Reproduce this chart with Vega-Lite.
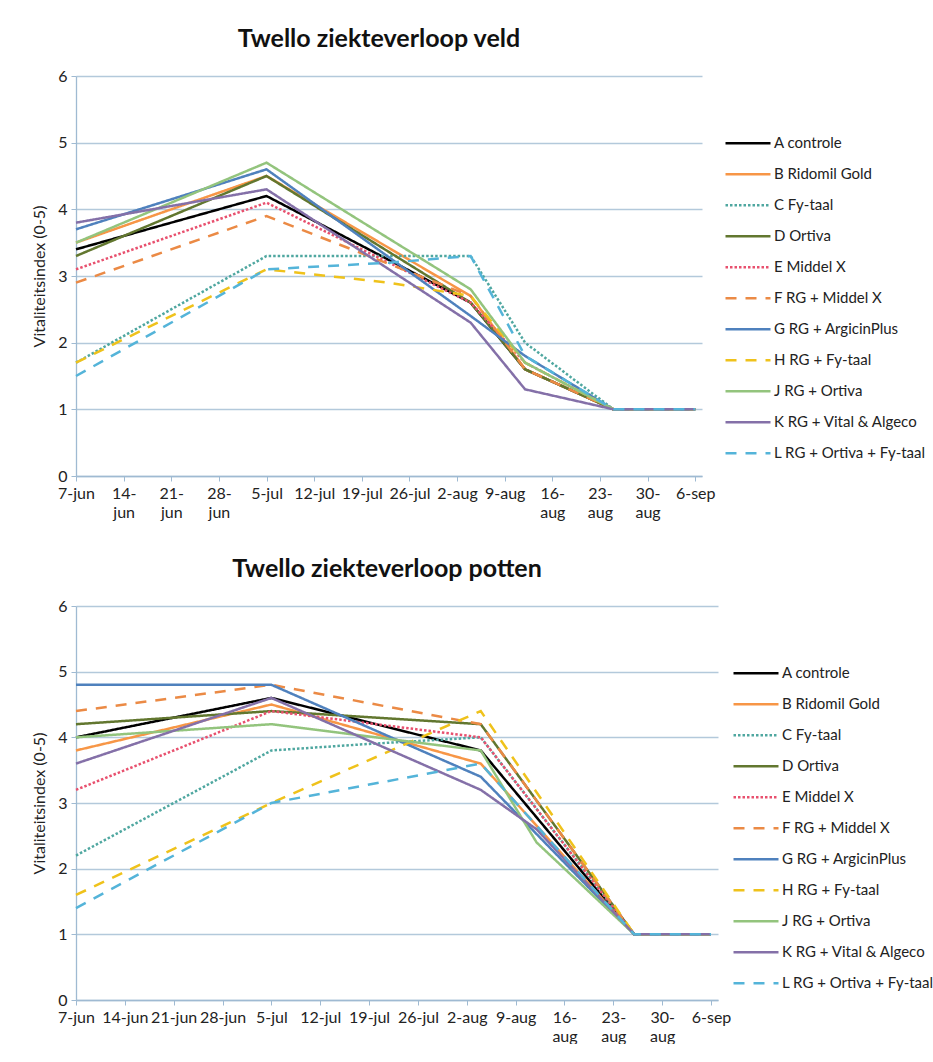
{
  "$schema": "https://vega.github.io/schema/vega-lite/v6.json",
  "background": "white",
  "padding": {"left": 31, "top": 27, "right": 0, "bottom": 0},
  "spacing": 37,
  "config": {
    "font": "Lato",
    "view": {"stroke": null},
    "axis": {
      "labelFont": "Lato", "titleFont": "Lato",
      "domainColor": "#9FBAD2", "tickColor": "#9FBAD2", "gridColor": "#B3C9DB",
      "labelColor": "#222222", "titleColor": "#222222",
      "labelFontSize": 16, "tickSize": 5, "domainWidth": 1.3, "gridWidth": 1.3
    },
    "title": {"font": "Lato", "fontSize": 25, "fontWeight": "bold", "color": "#111111", "anchor": "middle", "offset": 16, "dx": -10},
    "legend": {
      "symbolType": "stroke", "symbolSize": 2025, "symbolStrokeWidth": 2.5,
      "labelFont": "Lato", "labelFontSize": 15, "labelColor": "#222222",
      "clipHeight": 30.7, "rowPadding": 0, "labelOffset": 2, "padding": 0, "labelLimit": 300
    }
  },
  "datasets": {
    "veld": [
      {"treatment": "A controle", "date": "2010-06-07", "value": 3.4},
      {"treatment": "A controle", "date": "2010-07-05", "value": 4.2},
      {"treatment": "A controle", "date": "2010-08-04", "value": 2.6},
      {"treatment": "A controle", "date": "2010-08-12", "value": 1.6},
      {"treatment": "A controle", "date": "2010-08-25", "value": 1.0},
      {"treatment": "A controle", "date": "2010-09-06", "value": 1.0},
      {"treatment": "B Ridomil Gold", "date": "2010-06-07", "value": 3.5},
      {"treatment": "B Ridomil Gold", "date": "2010-07-05", "value": 4.5},
      {"treatment": "B Ridomil Gold", "date": "2010-08-04", "value": 2.7},
      {"treatment": "B Ridomil Gold", "date": "2010-08-12", "value": 1.6},
      {"treatment": "B Ridomil Gold", "date": "2010-08-25", "value": 1.0},
      {"treatment": "B Ridomil Gold", "date": "2010-09-06", "value": 1.0},
      {"treatment": "C Fy-taal", "date": "2010-06-07", "value": 1.7},
      {"treatment": "C Fy-taal", "date": "2010-07-05", "value": 3.3},
      {"treatment": "C Fy-taal", "date": "2010-07-23", "value": 3.3},
      {"treatment": "C Fy-taal", "date": "2010-08-04", "value": 3.3},
      {"treatment": "C Fy-taal", "date": "2010-08-12", "value": 2.0},
      {"treatment": "C Fy-taal", "date": "2010-08-25", "value": 1.0},
      {"treatment": "C Fy-taal", "date": "2010-09-06", "value": 1.0},
      {"treatment": "D Ortiva", "date": "2010-06-07", "value": 3.3},
      {"treatment": "D Ortiva", "date": "2010-07-05", "value": 4.5},
      {"treatment": "D Ortiva", "date": "2010-08-04", "value": 2.6},
      {"treatment": "D Ortiva", "date": "2010-08-12", "value": 1.6},
      {"treatment": "D Ortiva", "date": "2010-08-25", "value": 1.0},
      {"treatment": "D Ortiva", "date": "2010-09-06", "value": 1.0},
      {"treatment": "E Middel X", "date": "2010-06-07", "value": 3.1},
      {"treatment": "E Middel X", "date": "2010-07-05", "value": 4.1},
      {"treatment": "E Middel X", "date": "2010-08-04", "value": 2.6},
      {"treatment": "E Middel X", "date": "2010-08-12", "value": 1.7},
      {"treatment": "E Middel X", "date": "2010-08-25", "value": 1.0},
      {"treatment": "E Middel X", "date": "2010-09-06", "value": 1.0},
      {"treatment": "F RG + Middel X", "date": "2010-06-07", "value": 2.9},
      {"treatment": "F RG + Middel X", "date": "2010-07-05", "value": 3.9},
      {"treatment": "F RG + Middel X", "date": "2010-08-04", "value": 2.7},
      {"treatment": "F RG + Middel X", "date": "2010-08-12", "value": 1.6},
      {"treatment": "F RG + Middel X", "date": "2010-08-25", "value": 1.0},
      {"treatment": "F RG + Middel X", "date": "2010-09-06", "value": 1.0},
      {"treatment": "G RG + ArgicinPlus", "date": "2010-06-07", "value": 3.7},
      {"treatment": "G RG + ArgicinPlus", "date": "2010-07-05", "value": 4.6},
      {"treatment": "G RG + ArgicinPlus", "date": "2010-08-04", "value": 2.4},
      {"treatment": "G RG + ArgicinPlus", "date": "2010-08-12", "value": 1.8},
      {"treatment": "G RG + ArgicinPlus", "date": "2010-08-25", "value": 1.0},
      {"treatment": "G RG + ArgicinPlus", "date": "2010-09-06", "value": 1.0},
      {"treatment": "H RG + Fy-taal", "date": "2010-06-07", "value": 1.7},
      {"treatment": "H RG + Fy-taal", "date": "2010-07-05", "value": 3.1},
      {"treatment": "H RG + Fy-taal", "date": "2010-07-23", "value": 2.9},
      {"treatment": "H RG + Fy-taal", "date": "2010-08-04", "value": 2.7},
      {"treatment": "H RG + Fy-taal", "date": "2010-08-12", "value": 1.7},
      {"treatment": "H RG + Fy-taal", "date": "2010-08-25", "value": 1.0},
      {"treatment": "H RG + Fy-taal", "date": "2010-09-06", "value": 1.0},
      {"treatment": "J RG + Ortiva", "date": "2010-06-07", "value": 3.5},
      {"treatment": "J RG + Ortiva", "date": "2010-07-05", "value": 4.7},
      {"treatment": "J RG + Ortiva", "date": "2010-08-04", "value": 2.8},
      {"treatment": "J RG + Ortiva", "date": "2010-08-12", "value": 1.7},
      {"treatment": "J RG + Ortiva", "date": "2010-08-25", "value": 1.0},
      {"treatment": "J RG + Ortiva", "date": "2010-09-06", "value": 1.0},
      {"treatment": "K RG + Vital & Algeco", "date": "2010-06-07", "value": 3.8},
      {"treatment": "K RG + Vital & Algeco", "date": "2010-07-05", "value": 4.3},
      {"treatment": "K RG + Vital & Algeco", "date": "2010-08-04", "value": 2.3},
      {"treatment": "K RG + Vital & Algeco", "date": "2010-08-12", "value": 1.3},
      {"treatment": "K RG + Vital & Algeco", "date": "2010-08-25", "value": 1.0},
      {"treatment": "K RG + Vital & Algeco", "date": "2010-09-06", "value": 1.0},
      {"treatment": "L RG + Ortiva + Fy-taal", "date": "2010-06-07", "value": 1.5},
      {"treatment": "L RG + Ortiva + Fy-taal", "date": "2010-07-05", "value": 3.1},
      {"treatment": "L RG + Ortiva + Fy-taal", "date": "2010-07-23", "value": 3.2},
      {"treatment": "L RG + Ortiva + Fy-taal", "date": "2010-08-04", "value": 3.3},
      {"treatment": "L RG + Ortiva + Fy-taal", "date": "2010-08-12", "value": 1.8},
      {"treatment": "L RG + Ortiva + Fy-taal", "date": "2010-08-25", "value": 1.0},
      {"treatment": "L RG + Ortiva + Fy-taal", "date": "2010-09-06", "value": 1.0}
    ],
    "potten": [
      {"treatment": "A controle", "date": "2010-06-07", "value": 4.0},
      {"treatment": "A controle", "date": "2010-07-05", "value": 4.6},
      {"treatment": "A controle", "date": "2010-08-04", "value": 3.8},
      {"treatment": "A controle", "date": "2010-08-26", "value": 1.0},
      {"treatment": "A controle", "date": "2010-09-06", "value": 1.0},
      {"treatment": "B Ridomil Gold", "date": "2010-06-07", "value": 3.8},
      {"treatment": "B Ridomil Gold", "date": "2010-07-05", "value": 4.5},
      {"treatment": "B Ridomil Gold", "date": "2010-08-04", "value": 3.6},
      {"treatment": "B Ridomil Gold", "date": "2010-08-26", "value": 1.0},
      {"treatment": "B Ridomil Gold", "date": "2010-09-06", "value": 1.0},
      {"treatment": "C Fy-taal", "date": "2010-06-07", "value": 2.2},
      {"treatment": "C Fy-taal", "date": "2010-07-05", "value": 3.8},
      {"treatment": "C Fy-taal", "date": "2010-07-19", "value": 3.9},
      {"treatment": "C Fy-taal", "date": "2010-08-04", "value": 4.0},
      {"treatment": "C Fy-taal", "date": "2010-08-26", "value": 1.0},
      {"treatment": "C Fy-taal", "date": "2010-09-06", "value": 1.0},
      {"treatment": "D Ortiva", "date": "2010-06-07", "value": 4.2},
      {"treatment": "D Ortiva", "date": "2010-07-05", "value": 4.4},
      {"treatment": "D Ortiva", "date": "2010-08-04", "value": 4.2},
      {"treatment": "D Ortiva", "date": "2010-08-26", "value": 1.0},
      {"treatment": "D Ortiva", "date": "2010-09-06", "value": 1.0},
      {"treatment": "E Middel X", "date": "2010-06-07", "value": 3.2},
      {"treatment": "E Middel X", "date": "2010-07-05", "value": 4.4},
      {"treatment": "E Middel X", "date": "2010-08-04", "value": 4.0},
      {"treatment": "E Middel X", "date": "2010-08-26", "value": 1.0},
      {"treatment": "E Middel X", "date": "2010-09-06", "value": 1.0},
      {"treatment": "F RG + Middel X", "date": "2010-06-07", "value": 4.4},
      {"treatment": "F RG + Middel X", "date": "2010-07-05", "value": 4.8},
      {"treatment": "F RG + Middel X", "date": "2010-08-04", "value": 4.2},
      {"treatment": "F RG + Middel X", "date": "2010-08-26", "value": 1.0},
      {"treatment": "F RG + Middel X", "date": "2010-09-06", "value": 1.0},
      {"treatment": "G RG + ArgicinPlus", "date": "2010-06-07", "value": 4.8},
      {"treatment": "G RG + ArgicinPlus", "date": "2010-07-05", "value": 4.8},
      {"treatment": "G RG + ArgicinPlus", "date": "2010-08-04", "value": 3.4},
      {"treatment": "G RG + ArgicinPlus", "date": "2010-08-26", "value": 1.0},
      {"treatment": "G RG + ArgicinPlus", "date": "2010-09-06", "value": 1.0},
      {"treatment": "H RG + Fy-taal", "date": "2010-06-07", "value": 1.6},
      {"treatment": "H RG + Fy-taal", "date": "2010-07-05", "value": 3.0},
      {"treatment": "H RG + Fy-taal", "date": "2010-08-04", "value": 4.4},
      {"treatment": "H RG + Fy-taal", "date": "2010-08-26", "value": 1.0},
      {"treatment": "H RG + Fy-taal", "date": "2010-09-06", "value": 1.0},
      {"treatment": "J RG + Ortiva", "date": "2010-06-07", "value": 4.0},
      {"treatment": "J RG + Ortiva", "date": "2010-07-05", "value": 4.2},
      {"treatment": "J RG + Ortiva", "date": "2010-08-04", "value": 3.8},
      {"treatment": "J RG + Ortiva", "date": "2010-08-12", "value": 2.4},
      {"treatment": "J RG + Ortiva", "date": "2010-08-26", "value": 1.0},
      {"treatment": "J RG + Ortiva", "date": "2010-09-06", "value": 1.0},
      {"treatment": "K RG + Vital & Algeco", "date": "2010-06-07", "value": 3.6},
      {"treatment": "K RG + Vital & Algeco", "date": "2010-07-05", "value": 4.6},
      {"treatment": "K RG + Vital & Algeco", "date": "2010-08-04", "value": 3.2},
      {"treatment": "K RG + Vital & Algeco", "date": "2010-08-12", "value": 2.6},
      {"treatment": "K RG + Vital & Algeco", "date": "2010-08-26", "value": 1.0},
      {"treatment": "K RG + Vital & Algeco", "date": "2010-09-06", "value": 1.0},
      {"treatment": "L RG + Ortiva + Fy-taal", "date": "2010-06-07", "value": 1.4},
      {"treatment": "L RG + Ortiva + Fy-taal", "date": "2010-07-05", "value": 3.0},
      {"treatment": "L RG + Ortiva + Fy-taal", "date": "2010-08-04", "value": 3.6},
      {"treatment": "L RG + Ortiva + Fy-taal", "date": "2010-08-26", "value": 1.0},
      {"treatment": "L RG + Ortiva + Fy-taal", "date": "2010-09-06", "value": 1.0}
    ]
  },
  "vconcat": [
    {
      "title": "Twello ziekteverloop veld",
      "width": 626,
      "height": 400,
      "data": {"name": "veld"},
      "mark": {"type": "line", "strokeWidth": 2.5, "strokeCap": "butt"},
      "encoding": {
        "x": {
          "field": "date", "type": "temporal",
          "scale": {"type": "utc", "domain": [{"year": 2010, "month": 6, "date": 7, "utc": true}, {"year": 2010, "month": 9, "date": 7, "utc": true}]},
          "axis": {
            "title": null, "grid": false, "labelAngle": 0, "labelOverlap": false, "labelFlush": false, "labelBound": false,
            "labelPadding": 4, "labelLineHeight": 19,
            "values": [
              {"year": 2010, "month": 6, "date": 7, "utc": true},
              {"year": 2010, "month": 6, "date": 14, "utc": true},
              {"year": 2010, "month": 6, "date": 21, "utc": true},
              {"year": 2010, "month": 6, "date": 28, "utc": true},
              {"year": 2010, "month": 7, "date": 5, "utc": true},
              {"year": 2010, "month": 7, "date": 12, "utc": true},
              {"year": 2010, "month": 7, "date": 19, "utc": true},
              {"year": 2010, "month": 7, "date": 26, "utc": true},
              {"year": 2010, "month": 8, "date": 2, "utc": true},
              {"year": 2010, "month": 8, "date": 9, "utc": true},
              {"year": 2010, "month": 8, "date": 16, "utc": true},
              {"year": 2010, "month": 8, "date": 23, "utc": true},
              {"year": 2010, "month": 8, "date": 30, "utc": true},
              {"year": 2010, "month": 9, "date": 6, "utc": true}
            ],
            "labelExpr": "(utcdate(datum.value) >= 10 && (utcmonth(datum.value) == 5 || utcmonth(datum.value) == 7)) ? [utcFormat(datum.value, '%-d') + '-', lower(utcFormat(datum.value, '%b'))] : utcFormat(datum.value, '%-d') + '-' + lower(utcFormat(datum.value, '%b'))"
          }
        },
        "y": {
          "field": "value", "type": "quantitative",
          "scale": {"domain": [0, 6]},
          "axis": {"title": "Vitaliteitsindex (0-5)", "values": [0, 1, 2, 3, 4, 5, 6], "titleFontSize": 16, "titleFontWeight": "normal", "titlePadding": 10, "labelPadding": 4}
        },
        "color": {
          "field": "treatment", "type": "nominal",
          "scale": {
            "domain": ["A controle", "B Ridomil Gold", "C Fy-taal", "D Ortiva", "E Middel X", "F RG + Middel X", "G RG + ArgicinPlus", "H RG + Fy-taal", "J RG + Ortiva", "K RG + Vital & Algeco", "L RG + Ortiva + Fy-taal"],
            "range": ["#000000", "#F79646", "#4FA7A0", "#62772F", "#E8506E", "#EB8A45", "#4F81BD", "#EFC21B", "#93C47D", "#8470A8", "#54B4D9"]
          },
          "legend": {"title": null, "orient": "none", "legendX": 648, "legendY": 52}
        },
        "strokeDash": {
          "field": "treatment", "type": "nominal",
          "scale": {
            "domain": ["A controle", "B Ridomil Gold", "C Fy-taal", "D Ortiva", "E Middel X", "F RG + Middel X", "G RG + ArgicinPlus", "H RG + Fy-taal", "J RG + Ortiva", "K RG + Vital & Algeco", "L RG + Ortiva + Fy-taal"],
            "range": [[1, 0], [1, 0], [2.5, 2], [1, 0], [2.5, 2], [11, 9], [1, 0], [11, 9], [1, 0], [1, 0], [11, 9]]
          },
          "legend": {"title": null, "orient": "none", "legendX": 648, "legendY": 52}
        }
      }
    },
    {
      "title": "Twello ziekteverloop potten",
      "width": 642,
      "height": 394,
      "data": {"name": "potten"},
      "mark": {"type": "line", "strokeWidth": 2.5, "strokeCap": "butt"},
      "encoding": {
        "x": {
          "field": "date", "type": "temporal",
          "scale": {"type": "utc", "domain": [{"year": 2010, "month": 6, "date": 7, "utc": true}, {"year": 2010, "month": 9, "date": 7, "utc": true}]},
          "axis": {
            "title": null, "grid": false, "labelAngle": 0, "labelOverlap": false, "labelFlush": false, "labelBound": false,
            "labelPadding": 4, "labelLineHeight": 19,
            "values": [
              {"year": 2010, "month": 6, "date": 7, "utc": true},
              {"year": 2010, "month": 6, "date": 14, "utc": true},
              {"year": 2010, "month": 6, "date": 21, "utc": true},
              {"year": 2010, "month": 6, "date": 28, "utc": true},
              {"year": 2010, "month": 7, "date": 5, "utc": true},
              {"year": 2010, "month": 7, "date": 12, "utc": true},
              {"year": 2010, "month": 7, "date": 19, "utc": true},
              {"year": 2010, "month": 7, "date": 26, "utc": true},
              {"year": 2010, "month": 8, "date": 2, "utc": true},
              {"year": 2010, "month": 8, "date": 9, "utc": true},
              {"year": 2010, "month": 8, "date": 16, "utc": true},
              {"year": 2010, "month": 8, "date": 23, "utc": true},
              {"year": 2010, "month": 8, "date": 30, "utc": true},
              {"year": 2010, "month": 9, "date": 6, "utc": true}
            ],
            "labelExpr": "(utcdate(datum.value) >= 10 && utcmonth(datum.value) == 7) ? [utcFormat(datum.value, '%-d') + '-', lower(utcFormat(datum.value, '%b'))] : utcFormat(datum.value, '%-d') + '-' + lower(utcFormat(datum.value, '%b'))"
          }
        },
        "y": {
          "field": "value", "type": "quantitative",
          "scale": {"domain": [0, 6]},
          "axis": {"title": "Vitaliteitsindex (0-5)", "values": [0, 1, 2, 3, 4, 5, 6], "titleFontSize": 16, "titleFontWeight": "normal", "titlePadding": 10, "labelPadding": 4}
        },
        "color": {
          "field": "treatment", "type": "nominal",
          "scale": {
            "domain": ["A controle", "B Ridomil Gold", "C Fy-taal", "D Ortiva", "E Middel X", "F RG + Middel X", "G RG + ArgicinPlus", "H RG + Fy-taal", "J RG + Ortiva", "K RG + Vital & Algeco", "L RG + Ortiva + Fy-taal"],
            "range": ["#000000", "#F79646", "#4FA7A0", "#62772F", "#E8506E", "#EB8A45", "#4F81BD", "#EFC21B", "#93C47D", "#8470A8", "#54B4D9"]
          },
          "legend": {"title": null, "orient": "none", "legendX": 656, "legendY": 52}
        },
        "strokeDash": {
          "field": "treatment", "type": "nominal",
          "scale": {
            "domain": ["A controle", "B Ridomil Gold", "C Fy-taal", "D Ortiva", "E Middel X", "F RG + Middel X", "G RG + ArgicinPlus", "H RG + Fy-taal", "J RG + Ortiva", "K RG + Vital & Algeco", "L RG + Ortiva + Fy-taal"],
            "range": [[1, 0], [1, 0], [2.5, 2], [1, 0], [2.5, 2], [11, 9], [1, 0], [11, 9], [1, 0], [1, 0], [11, 9]]
          },
          "legend": {"title": null, "orient": "none", "legendX": 656, "legendY": 52}
        }
      }
    }
  ],
  "resolve": {"legend": {"color": "independent", "strokeDash": "independent"}, "scale": {"x": "independent", "color": "independent", "strokeDash": "independent"}}
}
